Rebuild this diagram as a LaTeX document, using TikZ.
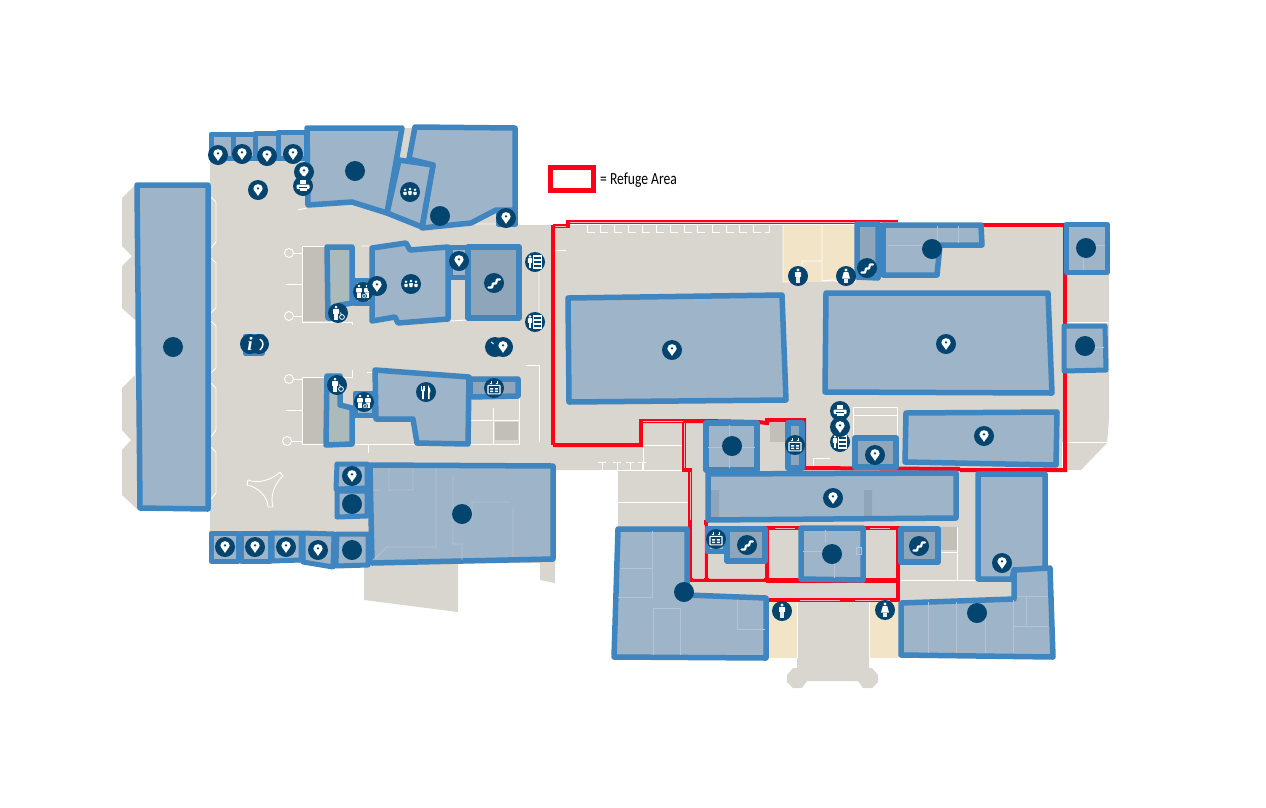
\documentclass[tikz,border=0pt]{standalone}
\usepackage{fontspec}
\setmainfont{Carlito}
\newfontfamily\serifi{Liberation Serif}
\definecolor{floorc}{HTML}{D9D5CF}
\definecolor{beigec}{HTML}{F2E4C6}
\definecolor{slabc}{HTML}{C2BFB8}
\definecolor{bluec}{HTML}{3F85C0}
\definecolor{panelc}{HTML}{9EB4C9}
\definecolor{paneld}{HTML}{8FA5BA}
\definecolor{panelg}{HTML}{ABBBBC}
\definecolor{navyc}{HTML}{04456F}
\definecolor{redc}{HTML}{FF0018}
\definecolor{inlc}{HTML}{B3C4D5}
\tikzset{
 x=1pt,y=-1pt,
 rm/.style={draw=bluec,fill=panelc,line width=5.5pt,line join=round},
 rmd/.style={rm,fill=paneld},
 rmg/.style={rm,fill=panelg},
 rms/.style={rm,line width=5pt},
 wl/.style={draw=white,line width=0.9pt},
 il/.style={draw=inlc,line width=0.8pt},
 rl/.style={draw=redc,line width=3.6pt,line join=miter},
 rw/.style={draw=white!70!redc,line width=1pt},
 pics/disc/.style={code={\fill[navyc] (0,0) circle (10);}},
 pics/iconpin/.style={code={\fill[navyc] (0,0) circle (10);
   \fill[white,even odd rule] (0,6) .. controls (-1.6,2.8) and (-4.6,0.5) .. (-4.6,-1.6) .. controls (-4.6,-4.2) and (-2.5,-5.8) .. (0,-5.8) .. controls (2.5,-5.8) and (4.6,-4.2) .. (4.6,-1.6) .. controls (4.6,0.5) and (1.6,2.8) .. (0,6) -- cycle (0,-1.6) circle (1.5);}},
 pics/iconstairs/.style={code={\fill[navyc] (0,0) circle (10);
   \draw[white,line width=2.2pt,line join=round,line cap=round] (-5.5,4.5) -- (-2,4.5) -- (-1,0.5) -- (2,0.5) -- (3,-3.5) -- (6,-3.5);}},
 pics/iconprint/.style={code={\fill[navyc] (0,0) circle (10);
   \fill[white] (-3,-6) rectangle (3,-2);
   \fill[white,rounded corners=1pt] (-6.5,-1.5) rectangle (6.5,3);
   \fill[navyc] (-4,1) rectangle (4,2.2);
   \fill[white] (-3.5,2.2) rectangle (3.5,5);}},
 pics/iconman/.style={code={\fill[navyc] (0,0) circle (10);
   \fill[white] (0,-6) circle (1.7);
   \fill[white,rounded corners=0.7pt] (-3,-4) rectangle (3,1);
   \fill[white!75!panelc] (-2,1) rectangle (2,7);}},
 pics/iconwoman/.style={code={\fill[navyc] (0,0) circle (10);
   \fill[white] (0,-6) circle (1.7);
   \fill[white] (-2.2,-4) -- (2.2,-4) -- (4,2.5) -- (-4,2.5) -- cycle;
   \fill[white!75!panelc] (-2,2.5) rectangle (2,7);}},
 pics/iconwheel/.style={code={\fill[navyc] (0,0) circle (10);
   \fill[white] (-2,-6) circle (1.5);
   \fill[white,rounded corners=0.6pt] (-5,-4) rectangle (1,1);
   \fill[white] (-4,1) rectangle (0,6.5);
   \draw[white,line width=0.8pt] (4,4) circle (2.4);
   \draw[white,line width=0.8pt] (2.5,-0.5) -- (3.5,2);}},
 pics/iconwc/.style={code={\fill[navyc] (0,0) circle (10);
   \foreach \q in {-4,4}{
   \fill[white] (\q,-6) circle (1.4);
   \fill[white,rounded corners=0.6pt] (\q-2.8,-4) rectangle (\q+2.8,0.5);
   \fill[white] (\q-1.8,0.5) rectangle (\q+1.8,6);}
   \draw[navyc,line width=0.7pt,fill=white] (1,4) circle (2.6);
   \draw[navyc,line width=0.5pt] (1,4) circle (1.2);}},
 pics/iconmeet/.style={code={\fill[navyc] (0,0) circle (10);
   \foreach \q/\r in {-5/0.8,0/0,5/0.8}{
   \fill[white] (\q,-3+\r) circle (1.35);
   \fill[white,rounded corners=0.8pt] (\q-1.9,-1+\r) -- (\q+1.9,-1+\r) -- (\q+1.5,3.2) -- (\q-1.5,3.2) -- cycle;}}},
 pics/iconboard/.style={code={\fill[navyc] (0,0) circle (10);
   \fill[white] (-5,-5.5) circle (1.4);
   \fill[white,rounded corners=0.5pt] (-7.2,-3.8) rectangle (-2.8,1);
   \fill[white] (-6.4,1) rectangle (-3.6,6);
   \draw[white,line width=1.1pt] (-1.2,-6) rectangle (6.5,6);
   \draw[white,line width=1.1pt] (-1.2,-2) -- (6.5,-2) (-1.2,2) -- (6.5,2);}},
 pics/iconlift/.style={code={\fill[navyc] (0,0) circle (10);
   \draw[white,line width=1.1pt,rounded corners=0.5pt] (-6,-2.6) rectangle (6,5.8);
   \fill[white] (-3.8,0.2) rectangle (-0.8,1.6) (0.8,0.2) rectangle (3.8,1.6) (-3.8,2.7) rectangle (-0.8,4.1) (0.8,2.7) rectangle (3.8,4.1);
   \draw[white,line width=0.8pt] (-3,-7) -- (-3,-4.6) (3,-7) -- (3,-4.6);
   \fill[white] (-4.4,-5) -- (-1.6,-5) -- (-3,-3.7) -- cycle (4.4,-5) -- (1.6,-5) -- (3,-3.7) -- cycle;}},
 pics/iconfork/.style={code={\fill[navyc] (0,0) circle (10);
   \draw[white,line width=0.9pt] (-4.8,-6.5) -- (-4.8,-1.5) (-3,-6.5) -- (-3,-1.5) (-1.2,-6.5) -- (-1.2,-1.5);
   \fill[white] (-4.8,-2.5) -- (-1.2,-2.5) -- (-2.2,0) -- (-2.2,7) -- (-3.8,7) -- (-3.8,0) -- cycle;
   \fill[white] (2,-7) .. controls (4.5,-5) and (4.5,-1) .. (4.2,0.5) -- (3.6,0.5) -- (3.6,7) -- (2,7) -- cycle;}},
 pics/iconinfo/.style={code={\fill[navyc] (0,0) circle (10);
   \node[text=white,font=\serifi\bfseries\itshape\fontsize{19}{19}\selectfont] at (0,0) {i};}}
}
\begin{document}
\begin{tikzpicture}
\useasboundingbox (0,0) rectangle (1266,807);
% floor
\fill[floorc] (210,134) -- (400,128) -- (515,128) -- (515,225) -- (1108,225) -- (1109,274) -- (1109,420) -- (1107,443) -- (1081,470) -- (978,470) -- (978,578) -- (1016,578) -- (1016,600) -- (869,600) -- (869,668) -- (872,668) -- (878,675) -- (878,682) -- (872,688) -- (863,688) -- (858,681) -- (807,681) -- (802,688) -- (793,688) -- (787,682) -- (787,675) -- (793,668) -- (797,668) -- (797,600) -- (640,600) -- (618,560) -- (618,470) -- (555,470) -- (555,583) -- (540,580) -- (540,563) -- (458,563) -- (458,612) -- (364,600) -- (364,563) -- (210,562) -- (210,510) -- (138,510) -- (122,495) -- (122,450) -- (131,440) -- (122,430) -- (122,388) -- (135,375) -- (135,320) -- (122,308) -- (122,266) -- (132,256) -- (122,246) -- (122,198) -- (135,185) -- (210,185) -- cycle;
% beige rooms
\fill[beigec] (783,225) rectangle (856,282);
\fill[beigec] (768,600) rectangle (797,658);
\fill[beigec] (869,600) rectangle (899,658);
% slabs
\fill[slabc] (302,247) rectangle (326,321);
\fill[slabc] (302,378) rectangle (326,444);
\fill[slabc] (495,422) rectangle (518,440);
\fill[slabc] (770,423) rectangle (785,442);
\fill[slabc] (940,527) rectangle (957,550);
% white floor lines
\draw[wl] (211,197) -- (216,202) -- (216,242) -- (211,248) (211,258) -- (216,263) -- (216,308) -- (211,313) (211,321) -- (216,326) -- (216,368) -- (211,373) (211,383) -- (216,388) -- (216,430) -- (211,437) (211,447) -- (216,452) -- (216,493) -- (211,499);
\draw[wl] (289,253) circle (4.5) (289,316) circle (4.5) (289,379) circle (4.5) (287,441) circle (4.5);
\draw[wl] (293.5,253) -- (302,253) (293.5,316) -- (302,316) (293.5,379) -- (302,379) (291.5,441) -- (302,441) (286,284) -- (302,284) (286,410) -- (302,410);
\draw[wl] (326,246) -- (302,246) -- (302,322) -- (352,322) -- (352,325);
\draw[wl] (361,246) -- (370,246) (298,210) -- (307,208) (473,224) -- (517,224) (450,321) -- (467,320) (539,262) -- (539,322);
\draw[wl] (352,370) -- (352,377) -- (340,377) (326,377) -- (302,377) -- (302,444) -- (519,444) (367,372) -- (372,372);
\draw[wl] (526,365) -- (539,365) -- (539,442) (519,397) -- (519,445) (493,408) -- (493,445) (470,420) -- (519,420) (368,445) -- (368,453);
\draw[wl] (247,485) -- (248,480) .. controls (258,484) and (272,480) .. (280,472) -- (283,476) .. controls (274,484) and (270,496) .. (273,507) -- (268,507) .. controls (268,497) and (258,487) .. (247,485) -- cycle;
\foreach \q in {587,600,614,628,642,656,670,684,697,712,726,739,753}{\draw[wl] (\q,224) -- (\q,232) -- (\q+8,232);}
\draw[wl] (769,224) -- (769,232) -- (765,232) (555,250) -- (566,250);
\draw[wl] (783,224) -- (783,282) -- (802,282) (822,224) -- (822,281) -- (833,280) -- (838,282) -- (856,282) (802,282) -- (802,261) -- (822,261);
\foreach \q in {602,617,630,642}{\draw[wl] (\q,470) -- (\q,462) (\q-4,462) -- (\q+4,462);}
\draw[wl] (643,422) -- (683,422) (643,422) -- (643,470) (643,445) -- (683,445) (600,470) -- (690,470) (618,502) -- (690,502);
\draw[wl] (813,468) -- (813,458) -- (830,458) (853,437) -- (853,407) -- (897,407) -- (897,437) (853,415) -- (897,415);
\draw[wl] (1062,470) -- (1062,442) -- (1107,442) (1065,322) -- (1109,322);
\draw[wl] (901,580) -- (978,580) (957,527) -- (957,580) (938,552) -- (957,552) (726,562) -- (766,562) -- (766,580) (768,600) -- (768,658) (797,600) -- (797,658) (869,600) -- (869,658);
% refuge outline
\draw[rl,line width=4pt] (553,445) -- (553,225);
\draw[rl] (553,226) -- (568,226) -- (568,222) -- (898,222);
\draw[rl,line width=4.5pt] (980,225) -- (1065,225) -- (1065,472);
\draw[rl,line width=4pt] (1067,470) -- (960,470) (960,469) -- (803,468);
\draw[rl,line width=4pt] (553,445) -- (641,445) -- (641,421) -- (705,421) -- (758,422) -- (767,423) -- (767,420) -- (804,420) -- (804,468);
\draw[rl] (684,421) -- (684,470) -- (690,470) -- (690,580) -- (898,580) (690,600) -- (898,600) -- (898,528) -- (767,528) -- (767,580);
\draw[rl] (706,520) -- (706,580);
\draw[rl,line width=5pt] (766,580) -- (898,580);
\draw[rw] (570,222) -- (898,222) (555,226.5) -- (566,226.5) (643,421.5) -- (683,421.5) (684,423) -- (684,468) (690.5,472) -- (690.5,520) (693,578.5) -- (704,578.5) (709,578.5) -- (764,578.5) (692,600) -- (760,600) (800,600) -- (840,600) (855,600) -- (890,600) (704.5,525) -- (704.5,578) (775,528) -- (795,528) (870,528) -- (890,528);
% rooms
\filldraw[rm] (137,185) -- (208,185) -- (208,509) -- (140,508) -- cycle;
\foreach \a/\b/\c in {211/233/134,233/255/134,255/278/133,278/306/132}{\filldraw[rms] (\a,\c) -- (\b,\c) -- (\b,158) -- (\a,158) -- cycle;}
\filldraw[rm] (415,127) -- (515,128) -- (515,210) -- (496,210) -- (471,223) -- (422,228) -- (433,165) -- (409,159) -- cycle;
\filldraw[rm] (307,128) -- (402,128) -- (387,213) -- (352,202) -- (308,205) -- cycle;
\filldraw[rm] (399,160) -- (433,165) -- (422,227) -- (387,213) -- cycle;
\filldraw[rms] (498,211) -- (515,211) -- (515,224) -- (498,224) -- cycle;
\filldraw[rmg] (327,247) -- (352,247) -- (352,303) -- (340,305) -- (340,318) -- (328,318) -- cycle;
\filldraw[rms] (354,280) -- (372,280) -- (372,303) -- (354,303) -- cycle;
\filldraw[rm] (372,248) -- (406,243) -- (410,250) -- (448,247) -- (448,319) -- (398,323) -- (395,317) -- (372,321) -- cycle;
\filldraw[rms] (450,247) -- (467,247) -- (467,277) -- (450,277) -- cycle;
\filldraw[rmd] (468,247) -- (519,247) -- (519,318) -- (468,318) -- cycle;
\filldraw[rms] (245,336) -- (262,336) -- (262,353) -- (245,353) -- cycle;
\filldraw[rmg] (327,376) -- (340,376) -- (340,405) -- (352,408) -- (352,444) -- (326,445) -- cycle;
\filldraw[rms] (355,393) -- (374,393) -- (374,415) -- (355,415) -- cycle;
\filldraw[rmd] (470,379) -- (518,379) -- (518,396) -- (470,397) -- cycle;
\filldraw[rm] (375,370) -- (469,377) -- (468,444) -- (417,443) -- (413,419) -- (376,419) -- cycle;
\filldraw[rms] (337,464) -- (367,464) -- (367,488) -- (336,489) -- cycle;
\filldraw[rms] (337,491) -- (367,491) -- (367,516) -- (337,517) -- cycle;
\filldraw[rm] (370,465) -- (553,466) -- (553,559) -- (372,563) -- cycle;
\filldraw[rms] (211,533) -- (238,533) -- (238,561) -- (211,561) -- cycle;
\filldraw[rms] (241,533) -- (270,533) -- (270,561) -- (241,561) -- cycle;
\filldraw[rms] (272,533) -- (301,533) -- (301,560) -- (272,561) -- cycle;
\filldraw[rms] (303,533) -- (334,534) -- (333,567) -- (303,562) -- cycle;
\filldraw[rms] (337,534) -- (368,534) -- (368,565) -- (336,566) -- cycle;
\filldraw[rm] (568,298) -- (782,295) -- (786,400) -- (569,402) -- cycle;
\filldraw[rm] (826,293) -- (1048,293) -- (1052,393) -- (825,392) -- cycle;
\filldraw[rm] (906,413) -- (1057,412) -- (1056,465) -- (905,462) -- cycle;
\filldraw[rmd] (857,224) -- (878,224) -- (878,278) -- (857,277) -- cycle;
\filldraw[rm] (883,225) -- (981,225) -- (982,245) -- (940,245) -- (937,275) -- (883,275) -- cycle;
\filldraw[rms] (1066,224) -- (1107,224) -- (1107,272) -- (1066,272) -- cycle;
\filldraw[rms] (1064,326) -- (1105,326) -- (1106,370) -- (1064,371) -- cycle;
\filldraw[rmd] (855,438) -- (896,438) -- (896,467) -- (855,467) -- cycle;
\filldraw[rmd] (788,423) -- (802,423) -- (802,468) -- (788,468) -- cycle;
\filldraw[rm] (706,423) -- (757,423) -- (757,470) -- (706,470) -- cycle;
\fill[panelc] (708,474) rectangle (956,519);
\fill[paneld] (711,490) rectangle (719,517) (864,490) rectangle (872,517);
\draw[rm,fill=none] (708,474) -- (956,473) -- (956,518) -- (708,520) -- cycle;
\filldraw[rms] (707,528) -- (725,528) -- (725,551) -- (707,551) -- cycle;
\filldraw[rmd] (727,529) -- (765,529) -- (765,561) -- (727,561) -- cycle;
\filldraw[rm] (801,528) -- (863,528) -- (863,580) -- (801,579) -- cycle;
\filldraw[rmd] (901,529) -- (938,529) -- (938,562) -- (901,562) -- cycle;
\filldraw[rm] (618,529) -- (687,529) -- (687,595) -- (766,598) -- (766,658) -- (614,657) -- cycle;
\filldraw[rm] (978,474) -- (1045,474) -- (1045,570) -- (1014,570) -- (1012,579) -- (978,579) -- cycle;
\filldraw[rm] (1014,570) -- (1050,568) -- (1053,657) -- (901,655) -- (901,603) -- (1014,599) -- cycle;
% interior lines
\draw[il] (389,468) -- (389,490) -- (413,490) -- (413,468) (373,490) -- (380,490) (436,468) -- (436,547) -- (387,547) -- (373,560) (453,475) -- (453,544) -- (462,544) -- (462,560) (472,520) -- (472,502) -- (510,502) (513,508) -- (513,557);
\draw[il] (620,568) -- (652,568) (652,531) -- (652,597) (618,597) -- (653,597) (653,655) -- (653,608) -- (680,608) -- (680,655) (737,600) -- (737,629) -- (765,629);
\draw[il] (928,602) -- (928,653) (956,602) -- (956,653) (985,608) -- (985,653) (1013,600) -- (1013,653) (1013,626) -- (1048,626) (1026,597) -- (1026,625) (1017,596) -- (1048,596);
\draw[il] (825,530) -- (825,543) (803,551) -- (822,551) (834,563) -- (834,578) (856,547) rectangle (861,554);
\draw[il] (729,425) -- (729,468) (708,447) -- (755,447) (937,226) -- (937,243) (958,226) -- (958,243) (888,245) -- (923,245) (1083,257) -- (1083,270) (1095,245) -- (1105,245) (1095,347) -- (1104,347);
% hidden icons under others
\pic at (259,344) {disc};
\draw[white,line width=1.4pt] (260,339) .. controls (264,342) and (264,346) .. (260,350);
\pic at (495,347) {disc};
\draw[white,line width=1pt] (491,342) -- (494,344);
% icons
\foreach \a/\b in {218/155,242/154,267/156,293/154,304/172,258/190,506/218,459/261,503/347,352/476,225/547,255/547,286/547,318/550,672/350,946/344,984/436,875/455,833/498,1002/563}{\pic at (\a,\b) {iconpin};}
\foreach \a/\b in {355/171,440/216,173/347,352/504,462/514,352/550,932/249,1086/248,1085/346,732/446,832/554,684/592,977/613}{\pic at (\a,\b) {disc};}
\foreach \a/\b in {410/192,411/284}{\pic at (\a,\b) {iconmeet};}
\pic at (303,186) {iconprint};
\pic at (840,442) {iconboard};
\pic at (840,427) {iconpin};
\pic at (840,411) {iconprint};
\pic at (535,262) {iconboard};
\pic at (535,322) {iconboard};
\foreach \a/\b in {494/283,867/268,747/545,919/546}{\pic at (\a,\b) {iconstairs};}
\pic at (338,313) {iconwheel};
\pic at (337,385) {iconwheel};
\pic at (363,292) {iconwc};
\pic at (364,402) {iconwc};
\pic at (377,286) {iconpin};
\pic at (250,344) {iconinfo};
\foreach \a/\b in {494/388,795/445,716/539}{\pic at (\a,\b) {iconlift};}
\pic at (426,392) {iconfork};
\pic at (798,276) {iconman};
\pic at (782,611) {iconman};
\pic at (846,276) {iconwoman};
\pic at (885,610) {iconwoman};
% legend
\draw[redc,line width=4.6pt] (550.5,167.5) rectangle (593.5,190.5);
\node[anchor=base west,inner sep=0pt,font=\fontsize{17}{17}\selectfont,xscale=0.8,transform shape] (legendtext) at (600,184) {= Refuge Area};
\end{tikzpicture}
\end{document}
